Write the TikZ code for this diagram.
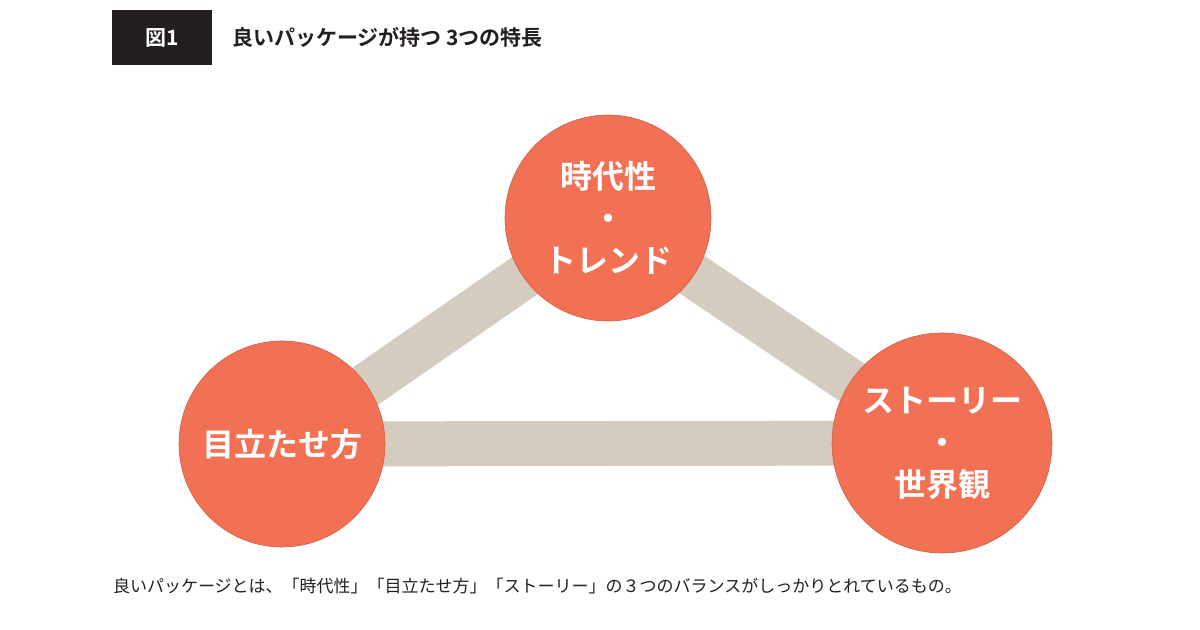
\documentclass[tikz,border=0pt]{standalone}
\usepackage{fontspec}
\setmainfont{Noto Sans CJK JP}
\newfontfamily\jpbold{Noto Sans CJK JP Bold}
\usetikzlibrary{positioning}
\definecolor{circlered}{HTML}{F27054}
\definecolor{barbeige}{HTML}{D3CCBF}
\definecolor{titleblack}{HTML}{231F20}
\tikzset{
	point/.style={circle,fill=circlered,draw=circlered!85!black,line width=0.3pt,inner sep=0pt,text=white,align=center,font=\jpbold\fontsize{16}{21}\selectfont},
	bar/.style={barbeige,line width=22.5pt}
}
\begin{document}
\begin{tikzpicture}[x=0.5pt,y=-0.5pt]
	\useasboundingbox (0,0) rectangle (1200,630);
	\fill[white] (0,0) rectangle (1200,630);
	% title
	\node[fill=titleblack,text=white,minimum width=50pt,minimum height=27.5pt,inner sep=0pt,font=\jpbold\fontsize{10.5}{12}\selectfont] (fig) at (162,37.5) {図1};
	\node[anchor=west,font=\jpbold\fontsize{10.5}{12}\selectfont,text=titleblack] (title) at (225,37.5) {良いパッケージが持つ 3つの特長};
	% circles
	\coordinate (ct) at (608,218);
	\coordinate (cl) at (282,444);
	\coordinate (cr) at (942,443);
	\draw[bar] (ct) -- (cl);
	\draw[bar] (ct) -- (cr);
	\draw[bar] (cl) -- (cr);
	\node[point,minimum size=103pt] (trend) at (ct) {時代性\\・\\トレンド};
	\node[point,minimum size=103pt] (stand) at (cl) {目立たせ方};
	\node[point,minimum size=110pt] (story) at (cr) {ストーリー\\・\\世界観};
	% caption
	\node[anchor=west,font=\fontsize{8.5}{10}\selectfont,text=titleblack] (caption) at (106,586) {良いパッケージとは、「時代性」「目立たせ方」「ストーリー」の３つのバランスがしっかりとれているもの。};
\end{tikzpicture}
\end{document}
